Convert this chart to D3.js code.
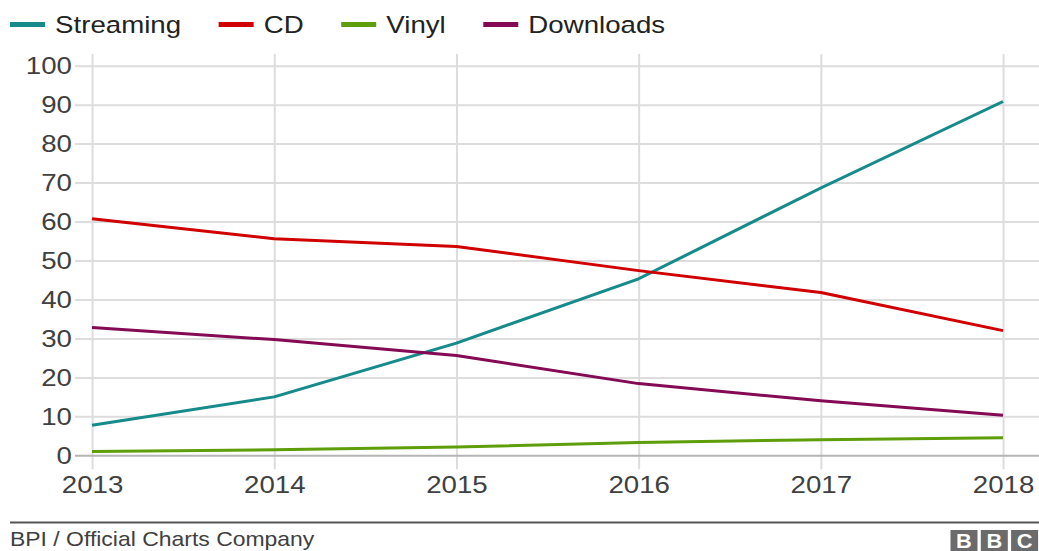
<!DOCTYPE html>
<html>
<head>
<meta charset="utf-8">
<script src="https://cdn.jsdelivr.net/npm/d3@7"></script>
<style>
  html, body { margin: 0; padding: 0; background: #fff; }
  svg { display: block; }
  text { font-family: "Liberation Sans", Arial, Helvetica, sans-serif; }
</style>
</head>
<body>
<svg id="chart"></svg>
<script>
// ---- data ----
const years = [2013, 2014, 2015, 2016, 2017, 2018];
const yTicks = [0, 10, 20, 30, 40, 50, 60, 70, 80, 90, 100];
const seriesNames = ["Streaming", "CD", "Vinyl", "Downloads"];
const streaming = [7.7, 15.0, 28.8, 45.3, 68.6, 90.8];
const cd = [60.7, 55.6, 53.6, 47.4, 41.8, 32.0];
const vinyl = [1.0, 1.4, 2.1, 3.3, 4.0, 4.5];
const downloads = [32.8, 29.7, 25.6, 18.4, 14.0, 10.3];
const seriesColors = ["#178a8b", "#d10000", "#5e9e0a", "#840a55"];
const sourceText = "BPI / Official Charts Company";

// ---- layout (virtual coords, stretched horizontally to fill 1039px) ----
const W = 1039, H = 551;
const S = 1.12;              // horizontal stretch of the reference
const VW = W / S;            // virtual width

const svg = d3.select("#chart")
  .attr("width", W).attr("height", H)
  .attr("viewBox", `0 0 ${VW} ${H}`)
  .attr("preserveAspectRatio", "none");

const x = d3.scaleLinear().domain([2013, 2018]).range([92 / S, 1003 / S]);
const y = d3.scaleLinear().domain([0, 100]).range([455.3, 65.7]);

const gridColor = "#dddddd";
const textColor = "#404040";
const fs = 24.7;

// vertical gridlines (upward from baseline)
svg.append("g")
  .attr("transform", `translate(0,${y(0)})`)
  .call(d3.axisBottom(x).tickValues(years).tickSize(-(y(0) - 54)).tickFormat(""))
  .call(g => g.select(".domain").remove())
  .call(g => g.selectAll("line").attr("stroke", gridColor).attr("stroke-width", 1.8));

// x axis ticks + labels
svg.append("g")
  .attr("transform", `translate(0,${y(0)})`)
  .call(d3.axisBottom(x).tickValues(years).tickSize(14).tickPadding(6.5).tickFormat(d3.format("d")))
  .call(g => g.select(".domain").remove())
  .call(g => g.selectAll("line").attr("stroke", gridColor).attr("stroke-width", 1.8))
  .call(g => g.selectAll("text")
    .attr("fill", textColor)
    .style("font-size", fs + "px")
    .style("font-family", '"Liberation Sans", Arial, sans-serif'));

// horizontal gridlines + y labels
const yAxisG = svg.append("g")
  .attr("transform", `translate(${75 / S},0)`)
  .call(d3.axisLeft(y).tickValues(yTicks).tickSize(-(VW - 75 / S)).tickPadding(2.7))
  .call(g => g.select(".domain").remove())
  .call(g => g.selectAll("line").attr("stroke", gridColor).attr("stroke-width", 2))
  .call(g => g.selectAll("text")
    .attr("fill", textColor)
    .style("font-size", fs + "px")
    .style("font-family", '"Liberation Sans", Arial, sans-serif'));
yAxisG.selectAll(".tick").filter(d => d === 0).select("line").attr("stroke", "#b5b5b5");

// series lines
const allSeries = [streaming, cd, vinyl, downloads];
const line = d3.line().x((d, i) => x(years[i])).y(d => y(d));
svg.append("g").selectAll("path")
  .data(allSeries)
  .join("path")
  .attr("d", d => line(d))
  .attr("fill", "none")
  .attr("stroke", (d, i) => seriesColors[i])
  .attr("stroke-width", 3)
  .attr("stroke-linejoin", "round");

// legend
const legend = svg.append("g");
let lx = 10 / S;
seriesNames.forEach((name, i) => {
  legend.append("rect")
    .attr("x", lx).attr("y", 22).attr("width", 35 / S).attr("height", 5)
    .attr("fill", seriesColors[i]);
  lx += 35 / S + 9;
  const t = legend.append("text")
    .attr("x", lx).attr("y", 33.3)
    .attr("fill", "#222")
    .style("font-size", fs + "px")
    .text(name);
  lx += t.node().getComputedTextLength() + 33.5;
});

// footer rule
svg.append("line")
  .attr("x1", 10 / S).attr("x2", VW)
  .attr("y1", 522.5).attr("y2", 522.5)
  .attr("stroke", "#555").attr("stroke-width", 2);

// source text
svg.append("text")
  .attr("x", 10 / S).attr("y", 546.5)
  .attr("fill", textColor)
  .style("font-size", "20.5px")
  .text(sourceText);

// BBC logo blocks
const bbc = ["B", "B", "C"];
const logo = svg.append("g");
bbc.forEach((ch, i) => {
  const bx = (950.5 + i * 30.3) / S;
  logo.append("rect")
    .attr("x", bx).attr("y", 530).attr("width", 27 / S).attr("height", 21)
    .attr("fill", "#6b6b6b");
  logo.append("text")
    .attr("x", bx + 13.5 / S).attr("y", 548)
    .attr("text-anchor", "middle")
    .attr("fill", "#fff")
    .style("font-size", "19.5px")
    .style("font-weight", "bold")
    .text(ch);
});
</script>
</body>
</html>
